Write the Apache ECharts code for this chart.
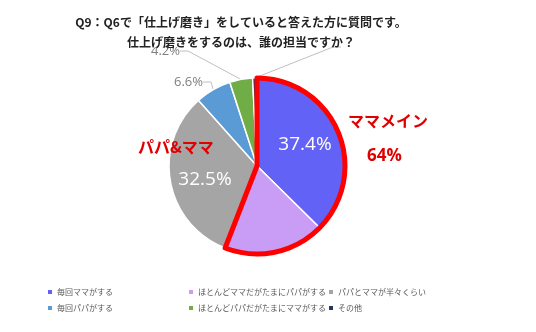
<!DOCTYPE html>
<html><head><meta charset="utf-8">
<script src="https://cdn.jsdelivr.net/npm/echarts@6/dist/echarts.min.js"></script>
<style>html,body{margin:0;padding:0;background:#fff}#c{width:536px;height:332px}</style>
</head><body><div id="c"></div>
<script>
const titleLines = ['Q9：Q6で「仕上げ磨き」をしていると答えた方に質問です。', '仕上げ磨きをするのは、誰の担当ですか？'];
const categories = ['毎回ママがする', 'ほとんどママだがたまにパパがする', 'パパとママが半々くらい', '毎回パパがする', 'ほとんどパパだがたまにママがする', 'その他'];
const values = [37.4, 18.5, 32.5, 6.6, 4.2, 0.8];
const valueLabels = ['37.4%', '', '32.5%', '6.6%', '4.2%', '0.8%'];
const colors = ['#6262F6', '#C99CF6', '#A5A5A5', '#5B9BD5', '#70AD47', '#203864'];
const annotations = ['ママメイン', '64%', 'パパ&ママ'];
const mamaMainCount = 2;

const mamaMain = values.slice(0, mamaMainCount).reduce((a, b) => a + b, 0);
const others = values.slice(mamaMainCount).reduce((a, b) => a + b, 0);

const chart = echarts.init(document.getElementById('c'), null, {renderer: 'canvas'});
const FONT = '"Noto Sans CJK JP", "Noto Sans", sans-serif';
const insideIdx = [0, 2];
const hiddenTextIdx = [5];
const labelPos = {3: [203, 82, 'right'], 4: [180, 51, 'right'], 5: [341, 47, 'left']};
const insidePos = {0: [305, 145], 2: [205, 180]};

const data = categories.map((n, i) => {
  const d = {name: n, value: values[i], itemStyle: {color: colors[i]}};
  if (insideIdx.includes(i)) {
    d.label = {show: true, position: 'inside', color: '#fff', fontSize: 19, fontFamily: '"Open Sans", "Noto Sans", sans-serif', formatter: valueLabels[i]};
  } else if (valueLabels[i] === '') {
    d.label = {show: false}; d.labelLine = {show: false};
  } else if (hiddenTextIdx.includes(i)) {
    d.label = {color: 'rgba(0,0,0,0)'};
  }
  return d;
});

const legendBase = {top: 288, orient: 'vertical', icon: 'rect', itemWidth: 6, itemHeight: 6, itemGap: 8, padding: 0,
  textStyle: {fontSize: 8, color: '#595959', fontFamily: FONT, padding: [0, 0, 0, -1]}};

chart.setOption({
  animation: false,
  title: {
    text: titleLines.join('\n'), left: 236, textAlign: 'center', top: 7, z: 10,
    textStyle: {fontSize: 12, fontWeight: 'bold', color: '#222', fontFamily: FONT, lineHeight: 20}
  },
  legend: [
    Object.assign({left: 46, data: [categories[0], categories[3]]}, legendBase),
    Object.assign({left: 187, data: [categories[1], categories[4]]}, legendBase),
    Object.assign({left: 327, data: [categories[2], categories[5]]}, legendBase)
  ],
  graphic: [
    {type: 'rect', z: 8, shape: {x: 120, y: 0, width: 120, height: 47}, style: {fill: '#fff'}},
    {type: 'text', z: 20, left: 348, top: 113, style: {text: annotations[0], fill: '#E00000', font: 'bold 16px ' + FONT}},
    {type: 'text', z: 20, left: 367, top: 148, style: {text: annotations[1], fill: '#E00000', font: 'bold 17px "Open Sans", sans-serif'}},
    {type: 'text', z: 20, left: 138, top: 139, style: {text: annotations[2], fill: '#E00000', font: 'bold 16px ' + FONT}}
  ],
  series: [
    {
      type: 'pie', center: [257, 166], radius: 88, startAngle: 90, z: 2,
      itemStyle: {borderColor: '#fff', borderWidth: 1.5},
      label: {show: true, position: 'outside', color: '#7F7F7F', fontSize: 13, fontFamily: '"Open Sans", "Noto Sans", sans-serif',
              formatter: p => valueLabels[p.dataIndex]},
      labelLine: {show: true, length: 8, length2: 8, lineStyle: {color: '#BFBFBF', width: 1}},
      labelLayout: p => {
        const lp = labelPos[p.dataIndex];
        if (lp) return {x: lp[0], y: lp[1], align: lp[2], verticalAlign: 'middle'};
        const ip = insidePos[p.dataIndex];
        if (ip) return {x: ip[0], y: ip[1], align: 'center', verticalAlign: 'middle'};
        return {};
      },
      emphasis: {disabled: true},
      data: data
    },
    {
      type: 'pie', center: [257, 166], radius: 88, startAngle: 90, z: 3, silent: true,
      label: {show: false}, labelLine: {show: false}, emphasis: {disabled: true},
      data: [
        {name: 'ママメイン枠', value: mamaMain, itemStyle: {color: 'rgba(0,0,0,0)', borderColor: '#FF0000', borderWidth: 5}},
        {name: 'その他枠', value: others, itemStyle: {color: 'rgba(0,0,0,0)', borderWidth: 0}}
      ]
    }
  ]
});
</script></body></html>
